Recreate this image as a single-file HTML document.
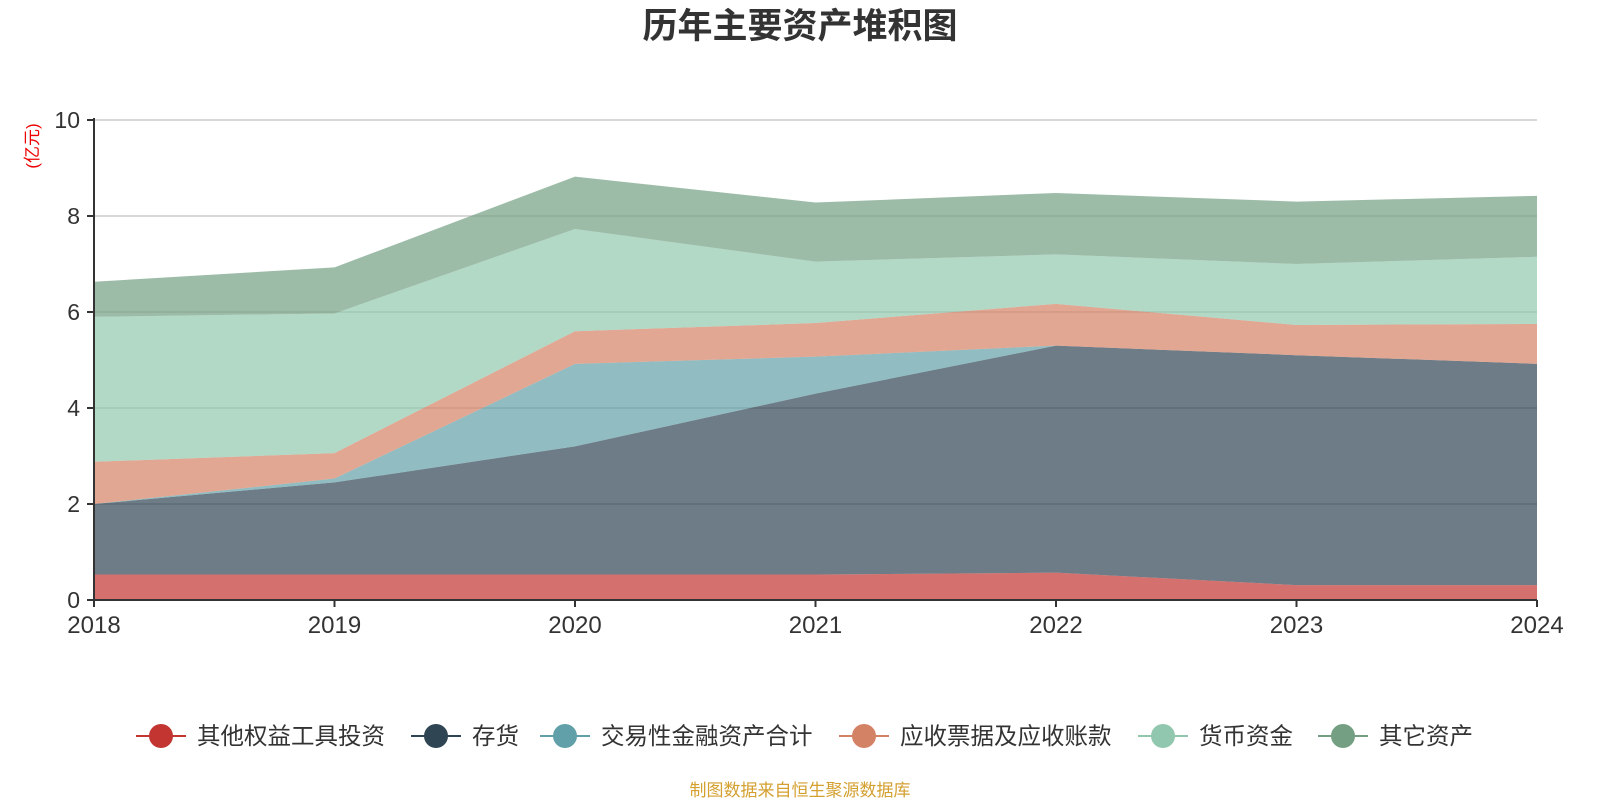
<!DOCTYPE html>
<html><head><meta charset="utf-8"><style>
body{margin:0;width:1600px;height:800px;background:#fff;font-family:"Liberation Sans","Noto Sans CJK SC",sans-serif;overflow:hidden}
</style></head><body>
<svg id="chart" width="1600" height="800" style="position:absolute;left:0;top:0">
<text x="800" y="38" text-anchor="middle" font-size="35" font-weight="bold" fill="#333" font-family="Liberation Sans,Noto Sans CJK SC,sans-serif">历年主要资产堆积图</text>
<text transform="translate(38,146) rotate(-90)" text-anchor="middle" font-size="17" fill="#e00" font-family="Liberation Sans,Noto Sans CJK SC,sans-serif">(亿元)</text>
<g id="grid"></g><g id="areas"></g><g id="axes"></g>
<text x="800" y="796" text-anchor="middle" font-size="17" fill="#d4a030" font-family="Liberation Sans,Noto Sans CJK SC,sans-serif">制图数据来自恒生聚源数据库</text>
</svg>
<script>
const years=['2018','2019','2020','2021','2022','2023','2024'];
const seriesNames=['其他权益工具投资','存货','交易性金融资产合计','应收票据及应收账款','货币资金','其它资产'];
const otherEquity=[0.53,0.53,0.53,0.53,0.57,0.31,0.31];
const inventory=[1.47,1.92,2.67,3.77,4.73,4.79,4.61];
const tradingAssets=[0,0.08,1.72,0.77,0,0,0];
const receivables=[0.88,0.53,0.68,0.70,0.87,0.63,0.83];
const cash=[3.02,2.91,2.13,1.28,1.03,1.27,1.40];
const otherAssets=[0.73,0.96,1.09,1.23,1.28,1.30,1.27];
const yTicks=[0,2,4,6,8,10];
const colors=['#c23531','#2f4554','#61a0a8','#d48265','#91c7ae','#749f83'];
const ns='http://www.w3.org/2000/svg';
const X0=94,X1=1537,Y0=600,Y1=120,YMAX=10;
const xs=i=>X0+(X1-X0)*i/(years.length-1);
const ys=v=>Y0-(Y0-Y1)*v/YMAX;
function mk(tag,attrs,parent){const e=document.createElementNS(ns,tag);for(const k in attrs)e.setAttribute(k,attrs[k]);parent.appendChild(e);return e;}
const grid=document.getElementById('grid'),areas=document.getElementById('areas'),axes=document.getElementById('axes');
yTicks.forEach(t=>{
 if(t>0){const l=mk('line',{x1:X0,x2:X1,y1:ys(t),y2:ys(t),stroke:'#ccc','stroke-width':1.5},grid);
 
 }
 const tk=mk('line',{x1:X0-7,x2:X0,y1:ys(t),y2:ys(t),stroke:'#333','stroke-width':2},axes);
 
 
 const tx=mk('text',{x:X0-14,y:ys(t)+8,'text-anchor':'end','font-size':23,fill:'#333','font-family':'Liberation Sans,sans-serif'},axes);
 tx.textContent=t;
 
 
});
const all=[otherEquity,inventory,tradingAssets,receivables,cash,otherAssets];
let base=years.map(()=>0);
all.forEach((s,k)=>{
 const top=base.map((b,i)=>b+s[i]);
 let d='M'+years.map((_,i)=>xs(i)+','+ys(top[i])).join(' L');
 for(let i=years.length-1;i>=0;i--)d+=' L'+xs(i)+','+ys(base[i]);
 d+='Z';
 const p=mk('path',{d:d,fill:colors[k],'fill-opacity':0.7,stroke:'none'},areas);
 
 
 base=top;
});
const yl=mk('line',{x1:X0,x2:X0,y1:Y1-2,y2:Y0,stroke:'#333','stroke-width':2},axes);


const xl=mk('line',{x1:X0,x2:X1,y1:Y0,y2:Y0,stroke:'#333','stroke-width':2},axes);


years.forEach((y,i)=>{
 const tk=mk('line',{x1:xs(i),x2:xs(i),y1:Y0,y2:Y0+7,stroke:'#333','stroke-width':2},axes);
 
 
 const tx=mk('text',{x:xs(i),y:Y0+33,'text-anchor':'middle','font-size':24,fill:'#333','font-family':'Liberation Sans,sans-serif'},axes);
 tx.textContent=y;
 
 
});
const legX=[136,411,540,839,1138,1318];
const svg=document.getElementById('chart');
seriesNames.forEach((n,k)=>{
 const g=mk('g',{},svg);
 
 
 mk('line',{x1:legX[k],x2:legX[k]+50,y1:736,y2:736,stroke:colors[k],'stroke-width':2},g);
 mk('circle',{cx:legX[k]+25,cy:736,r:12,fill:colors[k]},g);
 const t=mk('text',{x:legX[k]+61,y:744,'font-size':23.5,fill:'#333','font-family':'Liberation Sans,Noto Sans CJK SC,sans-serif'},g);
 t.textContent=n;
});
</script>
</body></html>
